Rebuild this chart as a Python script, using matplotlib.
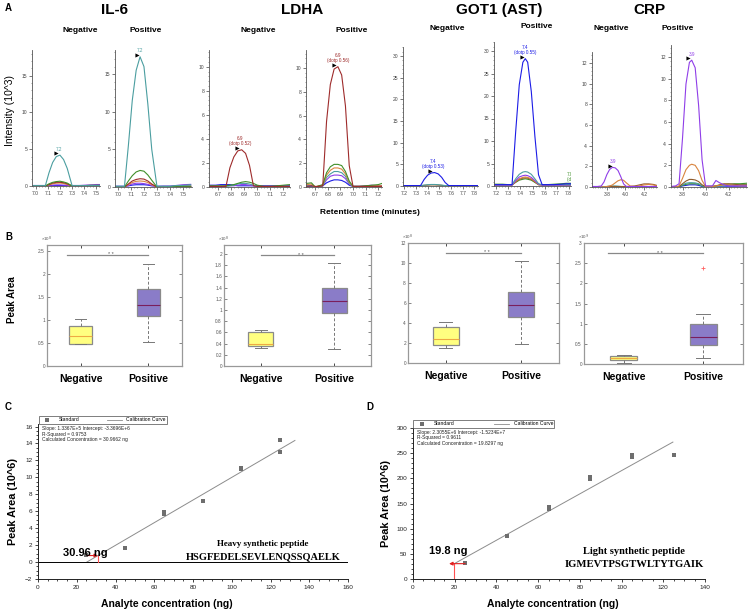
import matplotlib
matplotlib.use('Agg')
import matplotlib.pyplot as plt
from matplotlib.ticker import MultipleLocator
from matplotlib.lines import Line2D

W, H = 749, 612
plt.rcParams['font.family'] = ['Liberation Sans', 'DejaVu Sans']
fig = plt.figure(figsize=(W / 100, H / 100), dpi=100)

# ---------------- colours of transitions ----------------
TEAL = '#4b9ea0'
GREEN = '#3f8f2a'
DRED = '#9e2b2b'
ORANGE = '#d9843e'
BROWN = '#8f5a2a'
BLUE = '#1c1ce6'
PURPLE = '#8f3de8'

# ---------------- Panel A data (intensity x10^3) ----------------
il6_neg_t = [6.98, 7.03, 7.08, 7.11, 7.14, 7.17, 7.20, 7.23, 7.26, 7.30, 7.35, 7.40, 7.45, 7.50, 7.53]
il6_neg_teal = [0.05, 0.05, 0.05, 1.8, 3.2, 4.0, 4.2, 3.6, 2.4, 0.05, 0.05, 0.05, 0.05, 0.05, 0.05]
il6_neg_green = [0.0, 0.0, 0.0, 0.3, 0.5, 0.6, 0.65, 0.55, 0.4, 0.0, 0.0, 0.05, 0.1, 0.1, 0.1]
il6_neg_dred = [0.0, 0.0, 0.0, 0.2, 0.4, 0.5, 0.5, 0.45, 0.3, 0.0, 0.0, 0.0, 0.05, 0.05, 0.05]
il6_neg_orange = [0.0, 0.0, 0.0, 0.15, 0.3, 0.38, 0.4, 0.35, 0.2, 0.0, 0.0, 0.0, 0.0, 0.05, 0.05]
il6_neg_purple = [0.05, 0.05, 0.05, 0.1, 0.12, 0.15, 0.15, 0.12, 0.1, 0.05, 0.05, 0.1, 0.15, 0.2, 0.2]
il6_neg_blue = [0.08, 0.08, 0.08, 0.08, 0.08, 0.08, 0.08, 0.08, 0.08, 0.08, 0.08, 0.08, 0.08, 0.08, 0.08]

il6_pos_t = [6.98, 7.02, 7.05, 7.08, 7.11, 7.14, 7.17, 7.20, 7.23, 7.26, 7.30, 7.35, 7.40, 7.45, 7.50, 7.56]
il6_pos_teal = [0.1, 0.1, 0.1, 5.5, 11.5, 15.5, 17.3, 16.0, 11.0, 5.0, 0.1, 0.1, 0.1, 0.2, 0.2, 0.3]
il6_pos_green = [0.0, 0.0, 0.0, 0.8, 1.5, 2.0, 2.2, 2.1, 1.6, 0.9, 0.0, 0.0, 0.05, 0.1, 0.1, 0.1]
il6_pos_dred = [0.0, 0.0, 0.0, 0.4, 0.8, 1.0, 1.1, 1.05, 0.8, 0.4, 0.0, 0.0, 0.0, 0.05, 0.1, 0.1]
il6_pos_orange = [0.0, 0.0, 0.0, 0.3, 0.6, 0.75, 0.8, 0.75, 0.6, 0.3, 0.0, 0.0, 0.0, 0.05, 0.05, 0.05]
il6_pos_purple = [0.05, 0.05, 0.05, 0.2, 0.4, 0.5, 0.5, 0.45, 0.35, 0.2, 0.05, 0.1, 0.1, 0.2, 0.3, 0.35]
il6_pos_blue = [0.1, 0.1, 0.1, 0.15, 0.25, 0.3, 0.3, 0.3, 0.25, 0.15, 0.1, 0.1, 0.1, 0.1, 0.1, 0.1]

ldha_neg_t = [6.63, 6.68, 6.72, 6.76, 6.79, 6.82, 6.85, 6.88, 6.91, 6.94, 6.97, 7.00, 7.05, 7.10, 7.15, 7.20, 7.25]
ldha_neg_dred = [0.05, 0.05, 0.05, 0.05, 1.6, 2.5, 3.0, 3.1, 2.8, 1.8, 0.1, 0.05, 0.05, 0.05, 0.05, 0.05, 0.05]
ldha_neg_green = [0.1, 0.1, 0.1, 0.1, 0.15, 0.2, 0.3, 0.4, 0.45, 0.4, 0.3, 0.15, 0.05, 0.05, 0.1, 0.15, 0.2]
ldha_neg_teal = [0.05, 0.05, 0.05, 0.05, 0.1, 0.15, 0.25, 0.3, 0.3, 0.25, 0.15, 0.05, 0.05, 0.05, 0.05, 0.05, 0.05]
ldha_neg_blue = [0.15, 0.15, 0.2, 0.2, 0.2, 0.15, 0.1, 0.1, 0.1, 0.1, 0.1, 0.1, 0.1, 0.1, 0.1, 0.1, 0.1]
ldha_neg_purple = [0.05, 0.05, 0.05, 0.1, 0.1, 0.1, 0.15, 0.2, 0.2, 0.15, 0.1, 0.05, 0.05, 0.05, 0.05, 0.05, 0.05]

ldha_pos_t = [6.63, 6.67, 6.70, 6.73, 6.76, 6.79, 6.82, 6.85, 6.88, 6.91, 6.94, 6.97, 7.00, 7.05, 7.10, 7.15, 7.20, 7.23]
ldha_pos_dred = [0.05, 0.1, 0.05, 0.05, 0.1, 5.5, 8.6, 9.9, 10.1, 9.4, 6.8, 1.8, 0.05, 0.05, 0.05, 0.05, 0.05, 0.05]
ldha_pos_green = [0.3, 0.35, 0.0, 0.1, 0.2, 1.2, 1.7, 1.9, 1.9, 1.8, 1.3, 0.5, 0.05, 0.05, 0.1, 0.15, 0.2, 0.3]
ldha_pos_orange = [0.2, 0.25, 0.0, 0.1, 0.15, 1.0, 1.4, 1.6, 1.6, 1.5, 1.1, 0.4, 0.05, 0.05, 0.05, 0.1, 0.1, 0.1]
ldha_pos_teal = [0.1, 0.1, 0.0, 0.05, 0.1, 0.8, 1.1, 1.3, 1.3, 1.2, 0.9, 0.3, 0.05, 0.05, 0.05, 0.05, 0.05, 0.05]
ldha_pos_purple = [0.1, 0.1, 0.0, 0.05, 0.1, 0.6, 0.9, 1.0, 1.0, 0.95, 0.7, 0.25, 0.05, 0.05, 0.1, 0.15, 0.1, 0.1]
ldha_pos_blue = [0.05, 0.05, 0.0, 0.05, 0.1, 0.35, 0.5, 0.6, 0.6, 0.55, 0.4, 0.15, 0.05, 0.05, 0.05, 0.05, 0.05, 0.05]

got_neg_t = [7.18, 7.25, 7.30, 7.34, 7.37, 7.40, 7.43, 7.46, 7.49, 7.52, 7.55, 7.58, 7.62, 7.68, 7.74, 7.80, 7.83]
got_neg_blue = [0.1, 0.1, 0.1, 0.1, 1.5, 2.5, 3.0, 3.1, 2.8, 2.0, 0.8, 0.1, 0.1, 0.1, 0.1, 0.1, 0.1]
got_neg_teal = [0.1, 0.1, 0.1, 0.1, 0.2, 0.3, 0.35, 0.35, 0.3, 0.2, 0.1, 0.1, 0.1, 0.1, 0.1, 0.1, 0.1]
got_neg_brown = [0.05, 0.05, 0.05, 0.05, 0.15, 0.2, 0.25, 0.25, 0.2, 0.15, 0.05, 0.05, 0.05, 0.05, 0.05, 0.05, 0.05]

got_pos_t = [7.18, 7.25, 7.30, 7.33, 7.36, 7.39, 7.42, 7.44, 7.46, 7.49, 7.52, 7.55, 7.58, 7.62, 7.68, 7.74, 7.78, 7.83]
got_pos_blue = [0.3, 0.3, 0.3, 0.3, 12.0, 22.5, 27.5, 28.3, 27.5, 21.0, 11.0, 2.5, 0.3, 0.3, 0.3, 0.4, 0.5, 0.5]
got_pos_teal = [0.3, 0.3, 0.3, 0.3, 1.6, 2.6, 3.1, 3.2, 3.1, 2.6, 1.6, 0.5, 0.3, 0.3, 0.3, 0.3, 0.3, 0.3]
got_pos_purple = [0.2, 0.2, 0.2, 0.2, 1.2, 2.0, 2.3, 2.4, 2.3, 1.9, 1.2, 0.4, 0.2, 0.2, 0.2, 0.2, 0.2, 0.2]
got_pos_orange = [0.2, 0.2, 0.2, 0.2, 1.0, 1.6, 1.9, 2.0, 1.9, 1.6, 1.0, 0.3, 0.2, 0.2, 0.2, 0.2, 0.2, 0.2]
got_pos_brown = [0.2, 0.2, 0.2, 0.2, 0.9, 1.5, 1.75, 1.8, 1.75, 1.45, 0.9, 0.3, 0.2, 0.2, 0.2, 0.2, 0.2, 0.2]
got_pos_green = [0.4, 0.4, 0.3, 0.3, 0.8, 1.3, 1.5, 1.6, 1.5, 1.3, 0.8, 0.3, 0.3, 0.3, 0.4, 0.5, 0.6, 0.6]

crp_neg_t = [3.64, 3.70, 3.74, 3.77, 3.80, 3.83, 3.86, 3.89, 3.92, 3.95, 3.98, 4.01, 4.05, 4.10, 4.15, 4.20, 4.25, 4.30, 4.34]
crp_neg_purple = [0.05, 0.05, 0.1, 0.5, 1.2, 1.7, 1.9, 1.85, 1.6, 1.0, 0.3, 0.05, 0.05, 0.05, 0.05, 0.05, 0.05, 0.05, 0.05]
crp_neg_orange = [0.0, 0.0, 0.0, 0.0, 0.05, 0.1, 0.2, 0.4, 0.6, 0.7, 0.65, 0.4, 0.1, 0.05, 0.1, 0.2, 0.25, 0.2, 0.1]
crp_neg_brown = [0.0, 0.0, 0.0, 0.0, 0.0, 0.05, 0.05, 0.05, 0.05, 0.05, 0.05, 0.05, 0.05, 0.1, 0.2, 0.3, 0.3, 0.25, 0.15]
crp_neg_teal = [0.02, 0.02, 0.02, 0.02, 0.05, 0.08, 0.1, 0.1, 0.08, 0.05, 0.02, 0.02, 0.02, 0.02, 0.02, 0.02, 0.02, 0.02, 0.02]

crp_pos_t = [3.70, 3.74, 3.77, 3.80, 3.83, 3.86, 3.88, 3.91, 3.94, 3.97, 4.00, 4.03, 4.06, 4.09, 4.12, 4.16, 4.20, 4.25, 4.30, 4.36]
crp_pos_purple = [0.05, 0.1, 0.3, 4.5, 9.5, 11.5, 11.7, 11.0, 7.5, 2.5, 0.1, 0.1, 0.1, 0.6, 0.4, 0.2, 0.1, 0.1, 0.1, 0.1]
crp_pos_orange = [0.0, 0.0, 0.1, 0.8, 1.6, 2.0, 2.1, 2.0, 1.5, 0.6, 0.05, 0.05, 0.05, 0.1, 0.15, 0.2, 0.2, 0.15, 0.1, 0.1]
crp_pos_brown = [0.0, 0.0, 0.05, 0.3, 0.55, 0.7, 0.7, 0.65, 0.5, 0.2, 0.05, 0.05, 0.05, 0.1, 0.2, 0.3, 0.3, 0.25, 0.2, 0.2]
crp_pos_teal = [0.0, 0.0, 0.05, 0.2, 0.35, 0.4, 0.4, 0.38, 0.3, 0.1, 0.05, 0.05, 0.05, 0.05, 0.1, 0.1, 0.15, 0.2, 0.2, 0.2]
crp_pos_green = [0.0, 0.0, 0.05, 0.15, 0.25, 0.3, 0.3, 0.3, 0.25, 0.1, 0.05, 0.05, 0.05, 0.1, 0.15, 0.2, 0.25, 0.3, 0.3, 0.35]
crp_pos_blue = [0.0, 0.0, 0.02, 0.1, 0.15, 0.2, 0.2, 0.2, 0.15, 0.05, 0.02, 0.02, 0.02, 0.02, 0.02, 0.02, 0.02, 0.02, 0.02, 0.02]

# ---------------- Panel B data (whislo, q1, median, q3, whishi) ----------------
b_groups = ['Negative', 'Positive']
il6_box_neg = [0.47, 0.48, 0.65, 0.86, 1.03]
il6_box_pos = [0.53, 1.09, 1.32, 1.68, 2.22]
ldha_box_neg = [0.33, 0.36, 0.40, 0.61, 0.65]
ldha_box_pos = [0.31, 0.94, 1.16, 1.40, 1.84]
got_box_neg = [1.5, 1.8, 2.4, 3.6, 4.1]
got_box_pos = [1.9, 4.6, 5.8, 7.1, 10.2]
crp_box_neg = [0.02, 0.10, 0.15, 0.20, 0.22]
crp_box_pos = [0.15, 0.46, 0.68, 0.99, 1.25]
crp_box_pos_outliers = [2.38]

# ---------------- Panel C / D data ----------------
conc_c = [25, 45, 65, 65, 85, 105, 105, 125, 125]
area_c = [0.8, 1.7, 5.7, 5.9, 7.2, 10.95, 11.1, 13.0, 14.4]
slope_c, intercept_c = 0.13367, -3.3696
fit_range_c = [25.2, 132.6]
calc_c = 30.9662

conc_d = [25, 45, 65, 65, 85, 85, 105, 105, 125]
area_d = [31, 86, 140, 143, 198, 203, 243, 246, 247]
slope_d, intercept_d = 2.3055, -15.234
fit_range_d = [19.83, 124.6]
calc_d = 19.8297


def add_ax(l, t, r, b):
    return fig.add_axes([l / W, 1 - b / H, (r - l) / W, (b - t) / H])


def ftext(x, y, s, **kw):
    fig.text(x / W, 1 - y / H, s, **kw)


def chrom(px, t, traces, xlim, ylim, xticks, xfmt, ymajor, label):
    ax = add_ax(*px)
    for col, y in traces:
        ax.plot(t, y, color=col, lw=0.8)
    ax.set_xlim(*xlim)
    ax.set_ylim(*ylim)
    for s in ['top', 'right']:
        ax.spines[s].set_visible(False)
    for s in ['left', 'bottom']:
        ax.spines[s].set_color('#555555')
        ax.spines[s].set_linewidth(0.6)
    ax.set_xticks(xticks)
    ax.set_xticklabels([xfmt.format(v) for v in xticks])
    ax.yaxis.set_major_locator(MultipleLocator(ymajor))
    ax.yaxis.set_minor_locator(MultipleLocator(ymajor / 5))
    ax.xaxis.set_minor_locator(MultipleLocator(0.025))
    ax.tick_params(which='major', labelsize=3.6, length=2, width=0.5, colors='#444444', pad=1.5)
    ax.tick_params(which='minor', length=1, width=0.4, colors='#555555')
    ax.patch.set_alpha(0)
    for lx, ly, txt, col in label:
        dy = (ylim[1] - ylim[0]) * 0.015
        ax.text(lx, ly + dy * 1.6, txt, color=col, fontsize=3.3, ha='center', va='bottom', linespacing=1.0)
        dx = (xlim[1] - xlim[0]) * 0.045
        ax.plot([lx - dx], [ly + dy * 0.8], marker='>', color='black', ms=3, mew=0)
    return ax


# IL-6
chrom((32, 50, 100, 186), il6_neg_t,
      [(BLUE, il6_neg_blue), (PURPLE, il6_neg_purple), (ORANGE, il6_neg_orange), (DRED, il6_neg_dred),
       (GREEN, il6_neg_green), (TEAL, il6_neg_teal)],
      (6.97, 7.53), (0, 18.5), [7.0, 7.1, 7.2, 7.3, 7.4, 7.5], '{:.1f}', 5,
      [(7.19, 4.2, '7.2', TEAL)])
chrom((115, 50, 192, 187), il6_pos_t,
      [(BLUE, il6_pos_blue), (PURPLE, il6_pos_purple), (ORANGE, il6_pos_orange), (DRED, il6_pos_dred),
       (GREEN, il6_pos_green), (TEAL, il6_pos_teal)],
      (6.977, 7.57), (0, 18.2), [7.0, 7.1, 7.2, 7.3, 7.4, 7.5], '{:.1f}', 5,
      [(7.17, 17.3, '7.2', TEAL)])
# LDHA
chrom((209, 50, 290, 187), ldha_neg_t,
      [(BLUE, ldha_neg_blue), (PURPLE, ldha_neg_purple), (TEAL, ldha_neg_teal), (GREEN, ldha_neg_green),
       (DRED, ldha_neg_dred)],
      (6.63, 7.25), (0, 11.4), [6.7, 6.8, 6.9, 7.0, 7.1, 7.2], '{:.1f}', 2,
      [(6.87, 3.1, '6.9\n(dotp 0.52)', DRED)])
chrom((306, 50, 382, 187), ldha_pos_t,
      [(BLUE, ldha_pos_blue), (PURPLE, ldha_pos_purple), (TEAL, ldha_pos_teal), (ORANGE, ldha_pos_orange),
       (GREEN, ldha_pos_green), (DRED, ldha_pos_dred)],
      (6.627, 7.23), (0, 11.5), [6.7, 6.8, 6.9, 7.0, 7.1, 7.2], '{:.1f}', 2,
      [(6.88, 10.1, '6.9\n(dotp 0.56)', DRED)])
# GOT1
chrom((403, 47, 478, 186), got_neg_t,
      [(BROWN, got_neg_brown), (TEAL, got_neg_teal), (BLUE, got_neg_blue)],
      (7.19, 7.83), (0, 32.1), [7.2, 7.3, 7.4, 7.5, 7.6, 7.7, 7.8], '{:.1f}', 5,
      [(7.45, 3.1, '7.4\n(dotp 0.53)', BLUE)])
ax_gp = chrom((494, 42, 571, 186), got_pos_t,
              [(GREEN, got_pos_green), (BROWN, got_pos_brown), (ORANGE, got_pos_orange), (PURPLE, got_pos_purple),
               (TEAL, got_pos_teal), (BLUE, got_pos_blue)],
              (7.18, 7.82), (0, 32.0), [7.2, 7.3, 7.4, 7.5, 7.6, 7.7, 7.8], '{:.1f}', 5,
              [(7.44, 28.3, '7.4\n(dotp 0.55)', BLUE)])
ax_gp.text(7.785, 1.0, '7.8\n(dotp 0.6', color=GREEN, fontsize=3.3, ha='left', va='bottom', linespacing=1.0,
           clip_on=True)
# CRP
chrom((592, 52, 657, 187), crp_neg_t,
      [(TEAL, crp_neg_teal), (BROWN, crp_neg_brown), (ORANGE, crp_neg_orange), (PURPLE, crp_neg_purple)],
      (3.64, 4.34), (0, 13.06), [3.8, 4.0, 4.2], '{:.1f}', 2,
      [(3.87, 1.9, '3.9', PURPLE)])
chrom((671, 45, 747, 187), crp_pos_t,
      [(BLUE, crp_pos_blue), (GREEN, crp_pos_green), (TEAL, crp_pos_teal), (BROWN, crp_pos_brown),
       (ORANGE, crp_pos_orange), (PURPLE, crp_pos_purple)],
      (3.70, 4.36), (0, 13.1), [3.8, 4.0, 4.2], '{:.1f}', 2,
      [(3.88, 11.7, '3.9', PURPLE)])

# Panel A texts
ftext(5, 8, 'A', fontsize=7, fontweight='bold', va='center')
for x, s in [(115, 'IL-6'), (302, 'LDHA'), (499, 'GOT1 (AST)'), (649, 'CRP')]:
    ftext(x, 10, s, fontsize=11, fontweight='bold', ha='center', va='center')
for x, y, s in [(80, 30, 'Negative'), (146, 30, 'Positive'), (258, 30, 'Negative'), (352, 30, 'Positive'),
                (447, 29, 'Negative'), (537, 27, 'Positive'), (611, 29, 'Negative'), (678, 29, 'Positive')]:
    ftext(x, y, s, fontsize=6, fontweight='bold', ha='center', va='center')
ftext(10, 110, 'Intensity (10^3)', fontsize=7.5, rotation=90, ha='center', va='center')
ftext(370, 213, 'Retention time (minutes)', fontsize=6, fontweight='bold', ha='center', va='center')


# ---------------- Panel B ----------------
def boxpanel(px, neg, pos, ylim, ystep, yfmt, expo, sig_y, sig_x0, pos_fliers=()):
    ax = add_ax(*px)
    stats = []
    for vals, fl in [(neg, []), (pos, list(pos_fliers))]:
        stats.append(dict(whislo=vals[0], q1=vals[1], med=vals[2], q3=vals[3], whishi=vals[4], fliers=fl))
    bp = ax.bxp(stats, positions=[1, 2], widths=0.34, patch_artist=True, showfliers=True,
                capwidths=0.17,
                whiskerprops=dict(color='#777777', lw=0.7, ls=(0, (3, 2))),
                capprops=dict(color='#777777', lw=0.7),
                flierprops=dict(marker='+', markeredgecolor='#ff6060', ms=3, mew=0.6))
    fills = ['#ffff80', '#8a7cc8']
    meds = ['#eeaa44', '#7a1f5c']
    for patch, fc in zip(bp['boxes'], fills):
        patch.set_facecolor(fc)
        patch.set_edgecolor('#8a8a8a')
        patch.set_linewidth(0.9)
    for m, mc in zip(bp['medians'], meds):
        m.set_color(mc)
        m.set_linewidth(0.8)
    ax.set_xlim(0.5, 2.5)
    ax.set_ylim(*ylim)
    ticks = []
    v = 0.0
    while v <= ylim[1] + 1e-9:
        ticks.append(round(v, 6))
        v += ystep
    ax.set_yticks(ticks)
    ax.set_yticklabels([yfmt(t) for t in ticks])
    ax.set_xticks([1, 2])
    ax.set_xticklabels(b_groups, fontsize=7.5, fontweight='bold')
    ax.tick_params(axis='x', pad=6, length=2, direction='in', top=True, width=0.5)
    ax.tick_params(axis='y', labelsize=3.4, length=2, direction='in', right=True, width=0.5, colors='#555555',
                   pad=1.5)
    for lab in ax.get_xticklabels():
        lab.set_color('black')
    for s in ax.spines.values():
        s.set_color('#999999')
        s.set_linewidth(0.9)
    ax.plot([sig_x0, 2.0], [sig_y, sig_y], color='#888888', lw=0.9)
    ax.text((sig_x0 + 2.0) / 2 + 0.05, sig_y, '* *', fontsize=4, ha='center', va='center', color='#555555')
    ax.text(0.0, 1.005, expo, transform=ax.transAxes, fontsize=3.2, color='#555555', ha='center', va='bottom')
    return ax


def fmt_g(t):
    return ('%g' % t)


boxpanel((47, 245, 182, 366), il6_box_neg, il6_box_pos, (0, 2.63), 0.5, fmt_g, '×10$^8$', 2.42, 0.8)
boxpanel((224, 245, 371, 366), ldha_box_neg, ldha_box_pos, (0, 2.16), 0.2, fmt_g, '×10$^8$', 1.98, 1.0)
boxpanel((408, 243, 559, 363), got_box_neg, got_box_pos, (0, 12), 2, fmt_g, '×10$^8$', 11.0, 1.0)
boxpanel((584, 243, 743, 364), crp_box_neg, crp_box_pos, (0, 3), 0.5, fmt_g, '×10$^9$', 2.74, 0.8,
         crp_box_pos_outliers)
ftext(5, 237, 'B', fontsize=7, fontweight='bold', va='center')
ftext(12, 300, 'Peak Area', fontsize=7, fontweight='bold', rotation=90, ha='center', va='center')


# ---------------- Panels C and D ----------------
def calib(px, conc, area, slope, intercept, fit_range, calc, xlim, ylim, xmaj, xmin, ymaj, ymin, stats_lines,
          legend_w):
    ax = add_ax(*px)
    ax.set_xlim(*xlim)
    ax.set_ylim(*ylim)
    for s in ['top', 'right']:
        ax.spines[s].set_visible(False)
    for s in ['left', 'bottom']:
        ax.spines[s].set_color('#222222')
        ax.spines[s].set_linewidth(0.7)
    ax.xaxis.set_major_locator(MultipleLocator(xmaj))
    ax.xaxis.set_minor_locator(MultipleLocator(xmin))
    ax.yaxis.set_major_locator(MultipleLocator(ymaj))
    ax.yaxis.set_minor_locator(MultipleLocator(ymin))
    ax.tick_params(which='major', labelsize=4.6, length=2.5, width=0.6, pad=1.5, colors='#222222')
    ax.tick_params(which='minor', length=1.5, width=0.5)
    fx = list(fit_range)
    fy = [slope * x + intercept for x in fx]
    ax.plot(fx, fy, color='#8c8c8c', lw=0.7)
    ax.plot(conc, area, 's', color='#6e6e6e', ms=3.2, mew=0)
    ax.axhline(0, color='black', lw=0.7)
    ax.text(0.012, 0.985, '\n'.join(stats_lines), transform=ax.transAxes, fontsize=3.5, va='top', ha='left',
            linespacing=1.05, color='#222222')
    h1 = Line2D([], [], marker='s', ls='none', color='#6e6e6e', ms=2.5, mew=0)
    h2 = Line2D([], [], color='#8c8c8c', lw=0.6)
    leg = ax.legend([h1, h2], ['Standard', 'Calibration Curve'], loc='lower left', bbox_to_anchor=(0, 1.0),
                    ncol=2, fontsize=3.6, frameon=True, fancybox=False, edgecolor='#444444', borderpad=0.25,
                    handlelength=3, handletextpad=0.8, columnspacing=legend_w, borderaxespad=0.1)
    leg.get_frame().set_linewidth(0.6)
    yc = slope * calc + intercept
    ax.plot([calc, calc], [0, yc], color='#ff5050', lw=0.8)
    return ax, yc


SERIF = ['Liberation Serif', 'DejaVu Serif']

axc, yc_c = calib((38, 424, 348, 579), conc_c, area_c, slope_c, intercept_c, fit_range_c, calc_c,
                  (0, 160), (-2, 16.3), 20, 5, 2, 0.5,
                  ['Slope: 1.3367E+5 Intercept: -3.3696E+6', 'R-Squared = 0.9753',
                   'Calculated Concentration = 30.9662 ng'], 5.5)
axc.annotate('', xy=(calc_c, yc_c), xytext=(25.3, yc_c),
             arrowprops=dict(arrowstyle='-|>', color='#e02020', lw=0.8, mutation_scale=5, shrinkA=0, shrinkB=0))
axc.text(12.9, 1.1, '30.96 ng', fontsize=8, fontweight='bold', ha='left', va='center')
axc.text(116, 2.15, 'Heavy synthetic peptide', fontsize=6.5, fontweight='bold', family=SERIF,
         ha='center', va='center')
axc.text(116, 0.65, 'HSGFEDELSEVLENQSSQAELK', fontsize=7.5, fontweight='bold', family=SERIF,
         ha='center', va='center')
axc.set_ylabel('Peak Area (10^6)', fontsize=7.8, fontweight='bold', labelpad=5)
axc.set_xlabel('Analyte concentration (ng)', fontsize=7.5, fontweight='bold')
axc.xaxis.set_label_coords(0.416, -0.13)
ftext(5, 407, 'C', fontsize=7, fontweight='bold', va='center')

axd, yc_d = calib((413, 428, 705, 579), conc_d, area_d, slope_d, intercept_d, fit_range_d, calc_d,
                  (0, 140), (0, 300), 20, 5, 50, 10,
                  ['Slope: 2.3055E+6 Intercept: -1.5234E+7', 'R-Squared = 0.9611',
                   'Calculated Concentration = 19.8297 ng'], 8)
axd.annotate('', xy=(17.3, yc_d), xytext=(25.0, yc_d),
             arrowprops=dict(arrowstyle='-|>', color='#e02020', lw=0.8, mutation_scale=5, shrinkA=0, shrinkB=0))
axd.text(7.5, 56, '19.8 ng', fontsize=8, fontweight='bold', ha='left', va='center')
axd.text(106, 55.6, 'Light synthetic peptide', fontsize=7.5, fontweight='bold', family=SERIF,
         ha='center', va='center')
axd.text(106, 29.8, 'IGMEVTPSGTWLTYTGAIK', fontsize=7.7, fontweight='bold', family=SERIF,
         ha='center', va='center')
axd.set_ylabel('Peak Area (10^6)', fontsize=7.8, fontweight='bold', labelpad=4)
axd.set_xlabel('Analyte concentration (ng)', fontsize=7.5, fontweight='bold')
axd.xaxis.set_label_coords(0.48, -0.13)
ftext(366, 407, 'D', fontsize=7, fontweight='bold', va='center')

fig.savefig('out.png', dpi=100)
